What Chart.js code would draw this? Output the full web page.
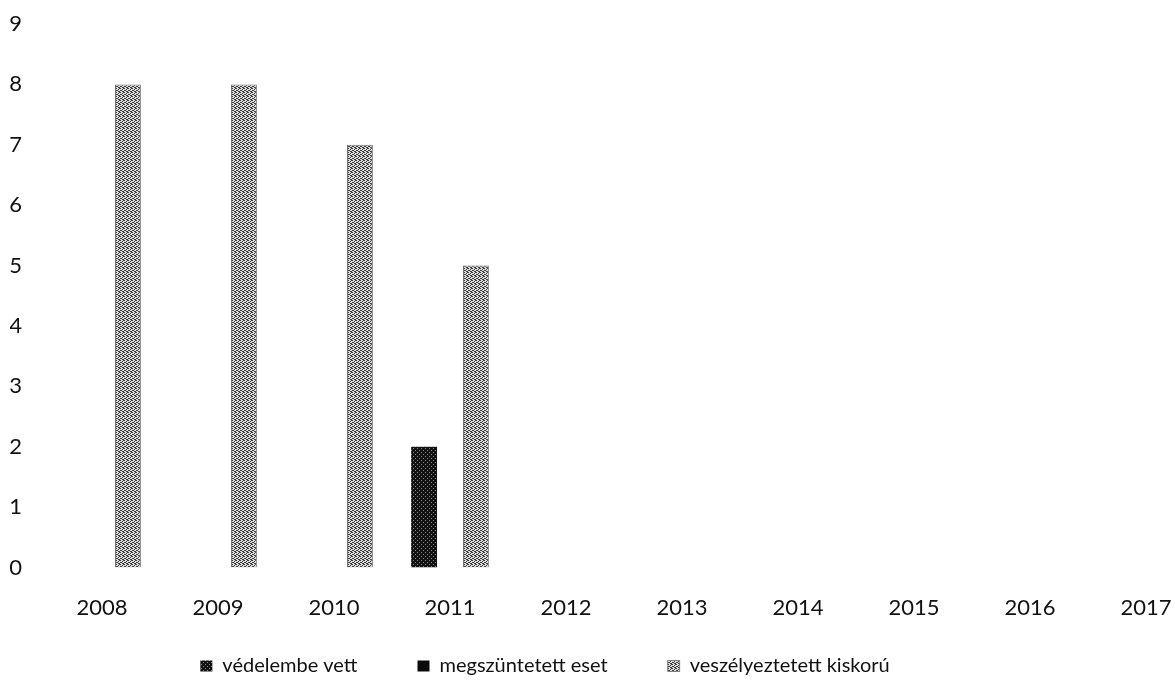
<!DOCTYPE html>
<html>
<head>
<meta charset="utf-8">
<script src="https://cdn.jsdelivr.net/npm/chart.js@4.4.1/dist/chart.umd.min.js"></script>
<style>
html,body{margin:0;padding:0;overflow:hidden;background:#fff;width:1175px;height:697px}
#wrap{position:absolute;left:0;top:0;width:1204px;height:697px}
</style>
</head>
<body>
<div id="wrap"><canvas id="c"></canvas></div>
<script>
const years = ['2008','2009','2010','2011','2012','2013','2014','2015','2016','2017'];
const vedelembeVett = [null,null,null,2,null,null,null,null,null,null];
const megszuntetettEset = [null,null,null,null,null,null,null,null,null,null];
const veszelyeztetettKiskoru = [8,8,7,5,null,null,null,null,null,null];
const seriesNames = ['védelembe vett','megszüntetett eset','veszélyeztetett kiskorú'];
const yMin = 0, yMax = 9, yStep = 1;

function makePattern(bg, fg, cells) {
  const pc = document.createElement('canvas');
  pc.width = 4; pc.height = 4;
  const g = pc.getContext('2d');
  g.fillStyle = bg; g.fillRect(0,0,4,4);
  g.fillStyle = fg;
  cells.forEach(([x,y]) => g.fillRect(x,y,1,1));
  return g.createPattern(pc, 'repeat');
}
const ctx = document.getElementById('c').getContext('2d');
const darkPat = makePattern('#121212', '#8a8a8a', [[1,0],[3,2]]);
const blackPat = '#0b0b0b';
const grayPat = makePattern('#dcdcdc', '#3c3c3c', [[0,0],[2,1],[1,2],[3,3],[2,3],[0,2],[3,0]]);

const legendMover = {
  id: 'legendMover',
  afterLayout(chart) {
    const l = chart.legend;
    if (!l) return;
    const targetCenter = 575;
    const cur = (l.left + l.right + 60) / 2;
    const dx = targetCenter - cur;
    l.left += dx; l.right += dx;
    l.top = 667 - 60 - 11;
    l.bottom = 697;
  }
};

new Chart(ctx, {
  type: 'bar',
  data: {
    labels: years,
    datasets: [
      { label: seriesNames[0], data: vedelembeVett, backgroundColor: darkPat, borderWidth: 0 },
      { label: seriesNames[1], data: megszuntetettEset, backgroundColor: blackPat, borderWidth: 0 },
      { label: seriesNames[2], data: veszelyeztetettKiskoru, backgroundColor: grayPat, borderColor: '#6a6a6a', borderWidth: {left:1,right:1,top:1,bottom:0} }
    ]
  },
  options: {
    responsive: true,
    maintainAspectRatio: false,
    animation: false,
    devicePixelRatio: 1,
    layout: { padding: { left: 10, right: 0, top: 24, bottom: 9 } },
    datasets: { bar: { categoryPercentage: 0.67, barPercentage: 1.0 } },
    scales: {
      x: {
        afterFit(scale) { scale.paddingLeft = 0; scale.paddingRight = 0; },
        grid: { display: false, drawTicks: false },
        border: { display: false },
        ticks: { color: '#111', padding: 27, font: { family: 'Lato', size: 22 } }
      },
      y: {
        min: yMin, max: yMax,
        afterFit(scale) { scale.width = 34; scale.paddingTop = 0; scale.paddingBottom = 0; },
        grid: { display: false, drawTicks: false },
        border: { display: false },
        ticks: { stepSize: yStep, color: '#111', padding: 22, font: { family: 'Lato', size: 22 } }
      }
    },
    plugins: {
      tooltip: { enabled: false },
      legend: {
        position: 'bottom',
        maxHeight: 40,
        labels: {
          boxWidth: 12, boxHeight: 11, padding: 60,
          color: '#111',
          font: { family: 'Lato', size: 20 }
        }
      }
    }
  },
  plugins: [legendMover]
});
</script>
</body>
</html>
